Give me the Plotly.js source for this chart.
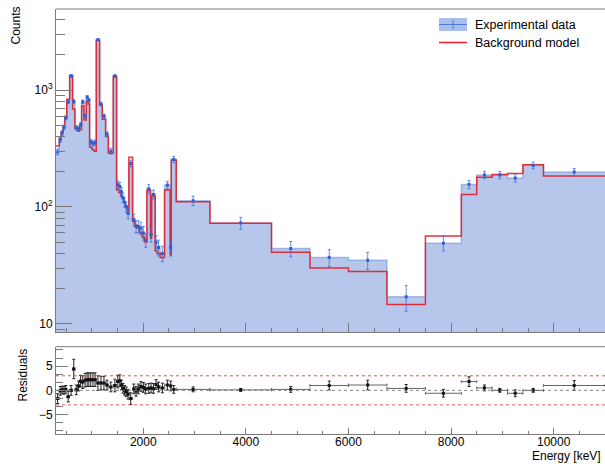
<!DOCTYPE html>
<html>
<head>
<meta charset="utf-8">
<script src="https://cdn.plot.ly/plotly-3.0.1.min.js"></script>
<style>
  html, body { margin: 0; padding: 0; background: #fff; }
  #plot { width: 605px; height: 464px; }
</style>
</head>
<body>
<div id="plot"></div>
<script>
// Bin edges of the energy histogram (keV)
const binEdges = [300, 364, 400, 440, 470, 510, 566, 624, 669, 721, 760, 799, 845, 890, 925, 955,
  1000, 1040, 1085, 1150, 1202, 1267, 1320, 1416, 1481, 1527, 1560, 1590, 1620, 1650, 1690, 1720,
  1793, 1840, 1880, 1930, 1980, 2025, 2072, 2143, 2163, 2234, 2266, 2330, 2416, 2526, 2546, 2644,
  3300, 4500, 5250, 6000, 6750, 7500, 8200, 8500, 8800, 9100, 9400, 9800, 11000];

// Measured counts per bin and their uncertainties
const dataCounts = [297, 375, 430, 480, 580, 795, 1325, 800, 475, 470, 505, 795, 600, 870, 822,
  360, 350, 355, 2700, 760, 600, 420, 300, 1320, 155, 150, 135, 120, 110, 100, 88,
  236, 78, 68, 68, 66, 60, 52, 143, 58, 128, 50, 45, 40, 154, 45, 255,
  113, 73, 44, 37, 35, 17, 49, 156, 188, 188, 177, 227, 199];
const dataErrors = [17, 19, 21, 22, 24, 28, 36, 28, 22, 22, 22, 28, 24, 29, 29,
  19, 19, 19, 52, 28, 24, 20, 17, 36, 12, 12, 12, 11, 10, 10, 9,
  15, 9, 8, 8, 8, 8, 7, 12, 8, 11, 7, 7, 6, 12, 7, 16,
  10.5, 8.5, 6.6, 6.1, 5.9, 4.2, 7, 12.5, 13.7, 13.7, 13.3, 15, 14.1];

// Background model prediction per bin
const modelCounts = [332, 385, 435, 485, 575, 837, 1325, 690, 471, 445, 460, 730, 555, 805, 760,
  325, 310, 300, 2675, 745, 562, 400, 288, 1318, 140, 132, 125, 118, 110, 102, 93,
  266, 75, 70, 66, 60, 55, 50, 138, 54, 124, 42, 40, 37, 140, 39, 252,
  111, 72.6, 41, 30, 28, 14.6, 56.5, 128, 180, 190, 193, 230, 184];

// Normalised residuals per bin
const residuals = [-1.7, -0.1, 0.1, 0.0, 0.2, -1.3, 0.0, 4.4, 0.1, 0.9, 1.9, 1.7, 2.1, 2.2, 2.2,
  2.2, 2.2, 2.2, 1.5, 1.5, 1.5, 1.1, 0.7, 1.0, 1.8, 2.0, 1.1, 0.4, 0.0, -0.3, -0.8,
  -1.7, 0.3, -0.2, 0.3, 0.8, 0.6, 0.3, 0.4, 0.5, 0.4, 1.2, 0.7, 0.5, 1.1, 0.9, 0.2,
  0.2, 0.1, 0.2, 1.0, 1.1, 0.4, -0.6, 1.8, 0.5, 0.0, -0.6, 0.0, 1.0];
const residualErrors = [1.0, 0.9, 0.8, 0.8, 0.8, 1.1, 1.0, 2.0, 1.0, 1.0, 1.2, 1.3, 1.4, 1.4, 1.4,
  1.4, 1.4, 1.4, 1.5, 1.4, 1.4, 1.0, 1.0, 1.3, 1.3, 1.2, 1.0, 1.0, 1.0, 1.0, 1.0,
  1.2, 1.0, 1.0, 1.0, 1.0, 1.0, 1.0, 1.0, 1.0, 1.0, 1.0, 1.0, 1.0, 1.0, 1.0, 0.8,
  0.5, 0.3, 0.6, 0.9, 1.0, 0.8, 0.8, 1.0, 0.6, 0.4, 0.7, 0.4, 1.0];

// Axis ticks
const energyTicks = [2000, 4000, 6000, 8000, 10000];
const energyTickText = ['2000', '4000', '6000', '8000', '10000'];
const countTicks = [10, 100, 1000];
const countTickText = ['10', '10<sup>2</sup>', '10<sup>3</sup>'];
const countMinorTicks = [9, 20, 30, 40, 50, 60, 70, 80, 90, 200, 300, 400, 500, 600, 700, 800, 900,
  2000, 3000, 4000];
const residualTicks = [-5, 0, 5];
const residualTickText = ['\u22125', '0', '5'];

// ---- derived geometry ----
const binCenters = dataCounts.map((_, i) => (binEdges[i] + binEdges[i + 1]) / 2);
const binHalfWidths = dataCounts.map((_, i) => (binEdges[i + 1] - binEdges[i]) / 2);
const stepY = arr => arr.concat([arr[arr.length - 1]]);
const xMin = binEdges[0], xMax = binEdges[binEdges.length - 1];

const W = 605, H = 464;
const M = { l: 56, r: 0, t: 9, b: 30 };
const plotW = W - M.l - M.r, plotH = H - M.t - M.b;
const px = x => (x - M.l) / plotW;          // pixel -> paper x
const py = y => (H - M.b - y) / plotH;      // pixel -> paper y

const mainBottom = py(332);
const resTop = py(346.7);

const fillBlue = 'rgb(183,199,235)';
const lineRed = 'rgb(228,28,38)';
const pointBlue = 'rgb(45,95,210)';

const traces = [
  // baseline below the visible range so the histogram fill reaches the axis
  { x: [xMin, xMax], y: [1, 1], mode: 'lines', line: { width: 0, color: fillBlue },
    hoverinfo: 'skip', showlegend: false, xaxis: 'x', yaxis: 'y' },
  // measured spectrum
  { x: binEdges, y: stepY(dataCounts), mode: 'lines', line: { shape: 'hv', width: 1.5, color: 'rgba(95,135,215,0.5)' },
    fill: 'tonexty', fillcolor: fillBlue, showlegend: false, xaxis: 'x', yaxis: 'y' },
  // background model
  { x: binEdges, y: stepY(modelCounts), mode: 'lines', line: { shape: 'hv', width: 1.5, color: lineRed },
    opacity: 0.9, showlegend: false, xaxis: 'x', yaxis: 'y' },
  // measured points with errors
  { x: binCenters, y: dataCounts, mode: 'markers',
    marker: { symbol: 'square', size: 3, color: pointBlue },
    error_y: { type: 'data', array: dataErrors, color: 'rgba(60,105,210,0.75)', thickness: 1, width: 1.5 },
    showlegend: false, xaxis: 'x', yaxis: 'y' },
  // residuals
  { x: binCenters, y: residuals, mode: 'markers',
    marker: { symbol: 'square', size: 3, color: '#111' },
    error_y: { type: 'data', array: residualErrors, color: '#222', thickness: 1, width: 1.5 },
    error_x: { type: 'data', array: binHalfWidths, color: '#666', thickness: 1, width: 1.5 },
    showlegend: false, xaxis: 'x2', yaxis: 'y2' },
  // empty trace that carries the top-aligned "Counts" title axis
  { x: [null], y: [null], mode: 'markers', showlegend: false, hoverinfo: 'skip', xaxis: 'x', yaxis: 'y3' }
];

const axisLine = '#7a7a7a';
const font = { family: 'Liberation Sans, Arial, sans-serif', size: 12, color: '#000' };

const layout = {
  width: W, height: H, margin: M,
  paper_bgcolor: '#fff', plot_bgcolor: 'rgba(0,0,0,0)',
  font: font, showlegend: false,
  xaxis: {
    domain: [0, 1], anchor: 'y', range: [xMin, xMax],
    showticklabels: false, ticks: 'inside', tickmode: 'array', tickvals: energyTicks,
    ticklen: 9, tickcolor: axisLine, tickwidth: 1,
    minor: { ticks: 'inside', dtick: 500, tick0: 0, ticklen: 4, tickcolor: axisLine },
    showline: true, linecolor: axisLine, linewidth: 1, showgrid: false, zeroline: false
  },
  yaxis: {
    domain: [mainBottom, 1], anchor: 'x', type: 'log',
    range: [Math.log10(8.5), Math.log10(4950)],
    tickmode: 'array', tickvals: countTicks, ticktext: countTickText,
    ticks: 'inside', ticklen: 16, tickcolor: axisLine,
    minor: { ticks: 'inside', tickmode: 'array', tickvals: countMinorTicks, ticklen: 9, tickcolor: axisLine },
    showline: true, linecolor: axisLine, linewidth: 1, showgrid: false, zeroline: false,
    tickfont: { size: 12 }
  },
  // title-only axis spanning the upper end of the counts scale
  yaxis3: {
    domain: [py(42), 1], anchor: 'free', position: 0, side: 'left', range: [0, 1],
    showticklabels: false, ticks: '', showline: false, showgrid: false, zeroline: false,
    title: { text: 'Counts', standoff: 31, font: { size: 12 } }
  },
  xaxis2: {
    domain: [0, 1], anchor: 'y2', range: [xMin, xMax],
    ticks: 'inside', tickmode: 'array', tickvals: energyTicks, ticktext: energyTickText,
    ticklen: 6, tickcolor: axisLine, ticklabelstandoff: -3,
    minor: { ticks: 'inside', dtick: 500, tick0: 0, ticklen: 3, tickcolor: axisLine },
    showline: true, linecolor: axisLine, linewidth: 1, showgrid: false, zeroline: false,
    tickfont: { size: 12 }
  },
  yaxis2: {
    domain: [0, resTop], anchor: 'x2', range: [-9, 9],
    tickmode: 'array', tickvals: residualTicks, ticktext: residualTickText,
    ticks: 'inside', ticklen: 12, tickcolor: axisLine,
    minor: { ticks: 'inside', dtick: 5 / 3, tick0: 0, ticklen: 7, tickcolor: axisLine },
    showline: true, linecolor: axisLine, linewidth: 1, showgrid: false, zeroline: false,
    tickfont: { size: 12 }
  },
  shapes: [
    // top edges of both frames
    { type: 'line', xref: 'paper', yref: 'paper', x0: 0, x1: 1, y0: 1, y1: 1, line: { color: axisLine, width: 1 } },
    { type: 'line', xref: 'paper', yref: 'paper', x0: 0, x1: 1, y0: resTop, y1: resTop, line: { color: axisLine, width: 1 } },
    // residual reference lines
    { type: 'line', xref: 'x2', yref: 'y2', x0: xMin, x1: xMax, y0: 3, y1: 3, line: { color: 'rgba(215,60,60,0.85)', width: 1, dash: 'dot' } },
    { type: 'line', xref: 'x2', yref: 'y2', x0: xMin, x1: xMax, y0: -3, y1: -3, line: { color: 'rgba(215,60,60,0.85)', width: 1, dash: 'dot' } },
    { type: 'line', xref: 'x2', yref: 'y2', x0: xMin, x1: xMax, y0: 0, y1: 0, line: { color: 'rgba(120,120,120,0.9)', width: 1, dash: 'dot' } },
    // legend symbols
    { type: 'rect', xref: 'paper', yref: 'paper', x0: px(439), x1: px(467), y0: py(31), y1: py(18),
      fillcolor: 'rgb(170,190,234)', line: { width: 0 } },
    { type: 'line', xref: 'paper', yref: 'paper', x0: px(439), x1: px(467), y0: py(24.5), y1: py(24.5),
      line: { color: 'rgb(80,120,215)', width: 1 } },
    { type: 'line', xref: 'paper', yref: 'paper', x0: px(453), x1: px(453), y0: py(20), y1: py(29),
      line: { color: 'rgb(80,120,215)', width: 1 } },
    { type: 'line', xref: 'paper', yref: 'paper', x0: px(439), x1: px(467), y0: py(42.5), y1: py(42.5),
      line: { color: lineRed, width: 1.5 } }
  ],
  annotations: [
    { text: 'Experimental data', xref: 'paper', yref: 'paper', x: px(473), y: py(24.5),
      xanchor: 'left', yanchor: 'middle', showarrow: false, font: { size: 12.5 } },
    { text: 'Background model', xref: 'paper', yref: 'paper', x: px(473), y: py(42.5),
      xanchor: 'left', yanchor: 'middle', showarrow: false, font: { size: 12.5 } },
    { text: 'Residuals', xref: 'paper', yref: 'paper', x: px(22.5), y: py(375),
      xanchor: 'center', yanchor: 'middle', textangle: -90, showarrow: false, font: { size: 12 } },
    { text: 'Energy [keV]', xref: 'paper', yref: 'paper', x: px(603), y: py(456),
      xanchor: 'right', yanchor: 'middle', showarrow: false, font: { size: 12 } }
  ]
};

Plotly.newPlot('plot', traces, layout, { staticPlot: true, displayModeBar: false });
</script>
</body>
</html>
